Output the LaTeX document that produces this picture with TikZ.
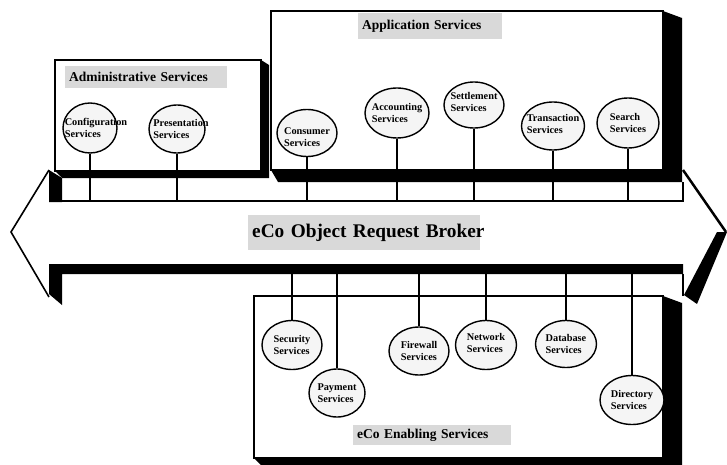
\documentclass[tikz,border=0pt]{standalone}
\usepackage{fontspec}
\setmainfont{Liberation Serif}
\usetikzlibrary{shapes.geometric}
\begin{document}
\begin{tikzpicture}[x=1pt,y=-1pt,
  svc/.style={ellipse, draw, line width=1.4pt, fill=gray!8, inner sep=0pt},
  svctext/.style={font=\bfseries\fontsize{10.3}{12}\selectfont, align=left, inner sep=0pt},
  lbl/.style={fill=gray!30, anchor=north west, inner xsep=4pt, inner ysep=0pt, align=left, font=\bfseries\fontsize{13.5}{15}\selectfont},
  boxs/.style={draw, line width=1.2pt, fill=white},
  stem/.style={line width=1.4pt},
  edge/.style={line width=1.2pt}]
\useasboundingbox (0,0) rectangle (727,465);
\fill[white] (0,0) rectangle (727,465);

% ---- arrow outline ----
\draw[line width=1.6pt, line join=miter] (49,170) -- (11,232) -- (49,297);
\draw[line width=2.5pt] (683,170) -- (726,232);
\fill (727,232) -- (697,304) -- (684,295) -- (717,232) -- cycle;

% left upper shadow of arrow
\fill (49,170) -- (62,178) -- (62,202) -- (49,202) -- cycle;
% shaft top line
\draw[line width=2.5pt] (49,201) -- (683,201);
% upper strip right edge
\draw[edge] (683,182) -- (683,202);
% lower shaft band + left lower shadow
\fill (49,264) -- (683,264) -- (683,274) -- (62,274) -- (62,305) -- (49,294) -- cycle;
% lower strip right edge
\draw[edge] (683,274) -- (683,296);

% ---- Administrative box ----
\fill (261,60) -- (269,65) -- (269,178) -- (62,178) -- (55,171) -- cycle;
\draw[boxs] (55,60) rectangle (261,171);
% ---- Application box ----
\fill (663,11) -- (682,18) -- (682,182) -- (278,182) -- (271,170) -- cycle;
\draw[boxs] (271,11) rectangle (663,170);
% ---- Enabling box ----
\fill (663,296) -- (682,303) -- (682,465) -- (261,465) -- (254,458) -- cycle;
\draw[boxs] (254,296) rectangle (663,458);

% ---- labels ----
\node[lbl, text width=154pt, minimum height=22pt] (admL) at (65,66) {\mbox{Administrative Services}};
\node[lbl, text width=136pt, minimum height=26pt] (appL) at (358,13) {\mbox{Application Services}};
\node[lbl, text width=224pt, minimum height=35pt, font=\bfseries\fontsize{19.3}{21}\selectfont] (orbL) at (248,215) {\mbox{eCo Object Request Broker}};
\node[lbl, text width=150pt, minimum height=20pt] (enbL) at (353,425) {\mbox{eCo Enabling Services}};

% ---- upper services ----
\node[svc, minimum width=54pt, minimum height=50pt] (cfg) at (90,128) {};
\node[svctext] (cfgT) at ([xshift=6pt]cfg.center) {Configuration\\Services};
\node[svc, minimum width=56pt, minimum height=48pt] (prs) at (177,129) {};
\node[svctext] (prsT) at ([xshift=4pt]prs.center) {Presentation\\Services};
\node[svc, minimum width=60pt, minimum height=47pt] (con) at (307,133) {};
\node[svctext] (conT) at ([yshift=-4pt]con.center) {Consumer\\Services};
\node[svc, minimum width=64pt, minimum height=50pt] (acc) at (397,113) {};
\node[svctext] (accT) at (acc) {Accounting\\Services};
\node[svc, minimum width=60pt, minimum height=46pt] (set) at (474,105) {};
\node[svctext] (setT) at ([yshift=3pt]set.center) {Settlement\\Services};
\node[svc, minimum width=63pt, minimum height=48pt] (trn) at (553,126) {};
\node[svctext] (trnT) at ([yshift=2pt]trn.center) {Transaction\\Services};
\node[svc, minimum width=62pt, minimum height=50pt] (srh) at (628,123) {};
\node[svctext] (srhT) at (srh) {Search\\Services};

% ---- lower services ----
\node[svc, minimum width=60pt, minimum height=49pt] (sec) at (292,345) {};
\node[svctext] (secT) at (sec) {Security\\Services};
\node[svc, minimum width=56pt, minimum height=48pt] (pay) at (337,393) {};
\node[svctext] (payT) at (pay) {Payment\\Services};
\node[svc, minimum width=60pt, minimum height=48pt] (fwl) at (419,351) {};
\node[svctext] (fwlT) at (fwl) {Firewall\\Services};
\node[svc, minimum width=61pt, minimum height=49pt] (net) at (486,345) {};
\node[svctext] (netT) at ([yshift=2pt]net.center) {Network\\Services};
\node[svc, minimum width=61pt, minimum height=47pt] (dbs) at (566,344) {};
\node[svctext] (dbsT) at (dbs) {Database\\Services};
\node[svc, minimum width=64pt, minimum height=49pt] (dir) at (632,400) {};
\node[svctext] (dirT) at (dir) {Directory\\Services};

% ---- stem anchor points on the broker ----
\foreach \n/\x in {cfg/90, prs/177, con/307, acc/397, set/474, trn/553, srh/628}
  \coordinate (\n B) at (\x,201);
\foreach \n/\x in {sec/292, pay/337, fwl/419, net/486, dbs/566, dir/632}
  \coordinate (\n B) at (\x,270);

\foreach \n in {cfg, prs, con, acc, set, trn, srh, sec, pay, fwl, net, dbs, dir}
  \draw[stem] (\n) -- (\n B);
\end{tikzpicture}
\end{document}
